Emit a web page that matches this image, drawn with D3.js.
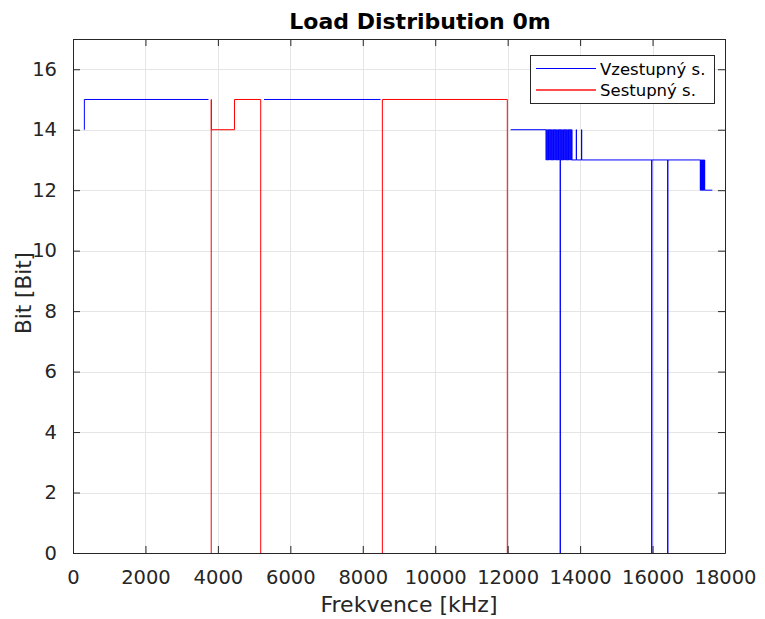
<!DOCTYPE html>
<html>
<head>
<meta charset="utf-8">
<script src="https://cdn.jsdelivr.net/npm/d3@7"></script>
<style>
  html, body { margin: 0; padding: 0; background: #fff; }
  svg { display: block; }
  text { font-family: "DejaVu Sans", sans-serif; fill: #262626; }
</style>
</head>
<body>
<script>
// ---- Data (frequency in kHz, bits) ----
const title = "Load Distribution 0m";
const xLabel = "Frekvence [kHz]";
const yLabel = "Bit [Bit]";
const seriesNames = ["Vzestupný s.", "Sestupný s."];
const xTicks = [0, 2000, 4000, 6000, 8000, 10000, 12000, 14000, 16000, 18000];
const yTicks = [0, 2, 4, 6, 8, 10, 12, 14, 16];

// Upstream ("Vzestupný s.") – three bands, null separates bands
const upFreq = [
  310, 314, 3740, null,
  5273, 8490, null,
  12084, 13058, 13075, 13093, 13110, 13127, 13144, 13162, 13179, 13196, 13213,
  13231, 13248, 13265, 13282, 13300, 13317, 13334, 13351, 13369, 13386, 13403,
  13420, 13438, 13450, 13455, 13472, 13489, 13507, 13524, 13541, 13558, 13576,
  13593, 13610, 13627, 13645, 13662, 13679, 13696, 13714, 13731, 13748, 13766,
  13776, 13895, 13899, 14038, 14045, 15976, 15980, 16418, 16422,
  17318, 17327, 17335, 17344, 17353, 17361, 17370, 17378, 17387, 17396, 17404,
  17413, 17422, 17430, 17440, 17650
];
const upBits = [
  14, 15, 15, null,
  15, 15, null,
  14, 13, 14, 13, 14, 13, 14, 13, 14, 13, 14,
  13, 14, 13, 14, 13, 14, 13, 14, 13, 14, 13,
  14, 13, 0, 14, 13, 14, 13, 14, 13, 14, 13,
  14, 13, 14, 13, 14, 13, 14, 13, 14, 13, 14,
  13, 14, 13, 14, 13, 0, 13, 0, 13,
  12, 13, 12, 13, 12, 13, 12, 13, 12, 13, 12,
  13, 12, 13, 12, 12
];

// Downstream ("Sestupný s.") – two bands
const downFreq = [3815, 3816, 3820, 4458, 5182, null, 8540, 8541, 11990];
const downBits = [0, 15, 14, 15, 0, null, 0, 15, 0];

// ---- Layout ----
const W = 765, H = 619;
const plot = { left: 73, right: 725, top: 39, bottom: 553 };

const svg = d3.select("body").append("svg").attr("width", W).attr("height", H);

const x = d3.scaleLinear().domain([0, 18000]).range([plot.left, plot.right]);
const y = d3.scaleLinear().domain([0, 17]).range([plot.bottom, plot.top]);

// grid
const grid = svg.append("g").attr("stroke", "#e5e5e5").attr("stroke-width", 1);
grid.selectAll("line.gx").data(xTicks.slice(1, -1)).join("line")
  .attr("x1", d => Math.round(x(d)) + 0.5).attr("x2", d => Math.round(x(d)) + 0.5)
  .attr("y1", plot.top).attr("y2", plot.bottom);
grid.selectAll("line.gy").data(yTicks.slice(1)).join("line")
  .attr("y1", d => Math.round(y(d)) + 0.5).attr("y2", d => Math.round(y(d)) + 0.5)
  .attr("x1", plot.left).attr("x2", plot.right);

// data lines
const line = d3.line()
  .defined(d => d[0] != null && d[1] != null)
  .x(d => x(d[0])).y(d => y(d[1]))
  .curve(d3.curveStepAfter);

const upData = upFreq.map((f, i) => [f, upBits[i]]);
const downData = downFreq.map((f, i) => [f, downBits[i]]);

svg.append("path").datum(upData).attr("d", line)
  .attr("fill", "none").attr("stroke", "#0000ff").attr("stroke-width", 1);
svg.append("path").datum(downData).attr("d", line)
  .attr("fill", "none").attr("stroke", "#ff0000").attr("stroke-width", 1);

// axes (MATLAB-like box with inward ticks)
const tickLen = 7;
const axisColor = "#262626";
const bottomAxis = d3.axisBottom(x).tickValues(xTicks).tickSizeInner(-tickLen).tickSizeOuter(0).tickPadding(tickLen + 10).tickFormat(d3.format("d"));
const topAxis = d3.axisTop(x).tickValues(xTicks).tickSizeInner(-tickLen).tickSizeOuter(0).tickFormat("");
const leftAxis = d3.axisLeft(y).tickValues(yTicks).tickSizeInner(-tickLen).tickSizeOuter(0).tickPadding(tickLen + 9).tickFormat(d3.format("d"));
const rightAxis = d3.axisRight(y).tickValues(yTicks).tickSizeInner(-tickLen).tickSizeOuter(0).tickFormat("");

function styleAxis(g) {
  g.select(".domain").attr("stroke", axisColor);
  g.selectAll(".tick line").attr("stroke", axisColor);
  g.selectAll(".tick text").attr("fill", axisColor).style("font-family", "DejaVu Sans, sans-serif").style("font-size", "19.5px");
}
svg.append("g").attr("transform", `translate(0,${plot.bottom})`).call(bottomAxis).call(styleAxis);
svg.append("g").attr("transform", `translate(0,${plot.top})`).call(topAxis).call(styleAxis);
svg.append("g").attr("transform", `translate(${plot.left},0)`).call(leftAxis).call(styleAxis);
svg.append("g").attr("transform", `translate(${plot.right},0)`).call(rightAxis).call(styleAxis);

// labels
svg.append("text").attr("x", 420).attr("y", 29).attr("text-anchor", "middle")
  .style("font-size", "22px").style("font-weight", "bold").style("fill", "#000").text(title);
svg.append("text").attr("x", 409).attr("y", 612).attr("text-anchor", "middle")
  .style("font-size", "22px").text(xLabel);
svg.append("text").attr("transform", `translate(31,${(plot.top + plot.bottom) / 2 - 3}) rotate(-90)`)
  .attr("text-anchor", "middle").style("font-size", "21.5px").text(yLabel);

// legend
const lg = svg.append("g");
lg.append("rect").attr("x", 530.5).attr("y", 55.5).attr("width", 184).attr("height", 48)
  .attr("fill", "#fff").attr("stroke", axisColor).attr("stroke-width", 1);
const legendColors = ["#0000ff", "#ff4d4d"];
seriesNames.forEach((n, i) => {
  const ly = 68 + i * 21;
  lg.append("rect").attr("x", 536).attr("width", 60).attr("y", ly).attr("height", i === 0 ? 1 : 2)
    .attr("fill", legendColors[i]);
  lg.append("text").attr("x", 600).attr("y", ly + 6.5).style("font-size", "16.5px").style("fill", "#000").text(n);
});
</script>
</body>
</html>
